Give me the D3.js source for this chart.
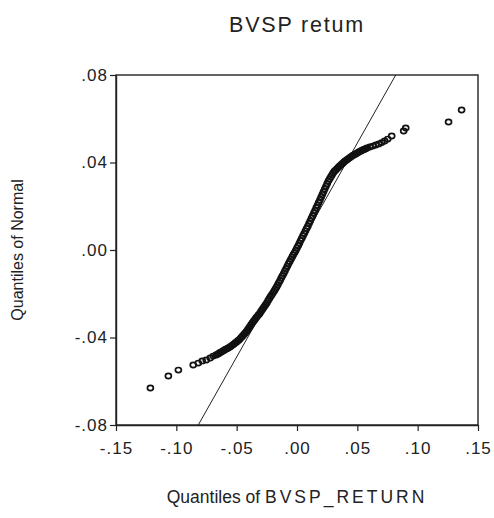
<!DOCTYPE html>
<html>
<head>
<meta charset="utf-8">
<script src="https://cdn.jsdelivr.net/npm/d3@7"></script>
<style>
  html, body { margin: 0; padding: 0; background: #fff; }
  svg { display: block; }
  text { font-family: "Liberation Sans", Arial, sans-serif; fill: #222; }
</style>
</head>
<body>
<svg id="chart" width="494" height="518"></svg>
<script>
// ---- Data ----
const title = "BVSP retum";
const xLabelA = "Quantiles of ";
const xLabelB = "BVSP_RETURN";
const yLabel = "Quantiles of Normal";

const xTicks = [-0.15, -0.10, -0.05, 0.00, 0.05, 0.10, 0.15];
const yTicks = [-0.08, -0.04, 0.00, 0.04, 0.08];

// Empirical quantiles (x) and normal quantiles (y)
const qData = [
  -0.1215, -0.1066, -0.0983, -0.0860, -0.0818, -0.0785, -0.0752, -0.0719, -0.0694,
  -0.067, -0.066, -0.065, -0.064, -0.063, -0.062, -0.061, -0.060, -0.059, -0.058,
  -0.057, -0.056, -0.055, -0.054, -0.053, -0.052, -0.051, -0.050, -0.049, -0.048,
  -0.047, -0.046, -0.045, -0.044, -0.043, -0.042, -0.041, -0.040, -0.039, -0.038,
  -0.037, -0.036, -0.035, -0.034, -0.033, -0.032, -0.031, -0.030, -0.029, -0.028,
  -0.027, -0.026, -0.025, -0.024, -0.023, -0.022, -0.021, -0.020, -0.019, -0.018,
  -0.017, -0.016, -0.015, -0.014, -0.013, -0.012, -0.011, -0.010, -0.009, -0.008,
  -0.007, -0.006, -0.005, -0.004, -0.003, -0.002, -0.001, 0.000, 0.001, 0.002,
  0.003, 0.004, 0.005, 0.006, 0.007, 0.008, 0.009, 0.010, 0.011, 0.012,
  0.013, 0.014, 0.015, 0.016, 0.017, 0.018, 0.019, 0.020, 0.021, 0.022,
  0.023, 0.024, 0.025, 0.026, 0.027, 0.028, 0.029, 0.030, 0.031, 0.032,
  0.033, 0.034, 0.035, 0.036, 0.037, 0.038, 0.039, 0.040, 0.041, 0.042,
  0.043, 0.044, 0.045, 0.046, 0.047, 0.048, 0.049, 0.050, 0.051, 0.052,
  0.053, 0.054, 0.055, 0.056, 0.057, 0.058,
  0.0603, 0.0628, 0.0653, 0.0678, 0.0702, 0.0727, 0.0752, 0.0785, 0.0884, 0.0901,
  0.1256, 0.1364
];
const qNormal = [
  -0.0631, -0.0576, -0.0549, -0.0526, -0.0517, -0.0507, -0.0503, -0.0494, -0.0485,
  -0.0480, -0.0477, -0.0474, -0.0470, -0.0467, -0.0464, -0.0460, -0.0457, -0.0454, -0.0451,
  -0.0448, -0.0445, -0.0441, -0.0437, -0.0433, -0.0429, -0.0424, -0.0420, -0.0415, -0.0411,
  -0.0405, -0.0399, -0.0393, -0.0386, -0.0380, -0.0374, -0.0366, -0.0358, -0.0350, -0.0342,
  -0.0334, -0.0326, -0.0319, -0.0311, -0.0304, -0.0297, -0.0291, -0.0282, -0.0274, -0.0266,
  -0.0258, -0.0250, -0.0242, -0.0232, -0.0223, -0.0214, -0.0206, -0.0197, -0.0188, -0.0179,
  -0.0170, -0.0160, -0.0149, -0.0139, -0.0128, -0.0118, -0.0107, -0.0096, -0.0085, -0.0074,
  -0.0063, -0.0052, -0.0042, -0.0032, -0.0022, -0.0012, -0.0002, 0.0009, 0.0020, 0.0031,
  0.0043, 0.0054, 0.0065, 0.0076, 0.0087, 0.0098, 0.0109, 0.0121, 0.0133, 0.0145,
  0.0157, 0.0169, 0.0181, 0.0193, 0.0205, 0.0217, 0.0229, 0.0241, 0.0254, 0.0266,
  0.0279, 0.0291, 0.0303, 0.0315, 0.0325, 0.0334, 0.0343, 0.0352, 0.0360, 0.0365,
  0.0371, 0.0376, 0.0382, 0.0387, 0.0392, 0.0397, 0.0402, 0.0407, 0.0411, 0.0415,
  0.0419, 0.0423, 0.0427, 0.0431, 0.0434, 0.0437, 0.0440, 0.0444, 0.0447, 0.0450,
  0.0453, 0.0456, 0.0458, 0.0461, 0.0463, 0.0466,
  0.0471, 0.0475, 0.0480, 0.0485, 0.0491, 0.0498, 0.0507, 0.0521, 0.0544, 0.0558,
  0.0585, 0.0640
];

// Reference (theoretical) line end points
const refLineX = [-0.0818, 0.0818];
const refLineY = [-0.08, 0.08];

// ---- Layout ----
const W = 494, H = 518;
const margin = { left: 116, right: 16, top: 75, bottom: 93 };
const svg = d3.select("#chart");

const x = d3.scaleLinear().domain([-0.15, 0.15]).range([margin.left, W - margin.right]);
const y = d3.scaleLinear().domain([-0.08, 0.08]).range([H - margin.bottom, margin.top]);

// EViews style: ".08", "-.04", ".00" with plain hyphen
const fmt = v => {
  const a = Math.abs(v) < 1e-9 ? 0 : v;
  const s = Math.abs(a).toFixed(2).replace(/^0\./, ".");
  return (a < 0 ? "-" : "") + s;
};

// clip
svg.append("clipPath").attr("id", "clip")
  .append("rect")
  .attr("x", x(-0.15)).attr("y", y(0.08))
  .attr("width", x(0.15) - x(-0.15)).attr("height", y(-0.08) - y(0.08));

// Reference line
svg.append("line")
  .attr("clip-path", "url(#clip)")
  .attr("x1", x(refLineX[0])).attr("y1", y(refLineY[0]))
  .attr("x2", x(refLineX[1])).attr("y2", y(refLineY[1]))
  .attr("stroke", "#222").attr("stroke-width", 1);

// Points
const pts = qData.map((d, i) => [d, qNormal[i]]);
svg.append("g")
  .selectAll("ellipse")
  .data(pts)
  .join("ellipse")
  .attr("cx", d => x(d[0]))
  .attr("cy", d => y(d[1]))
  .attr("rx", 3.0)
  .attr("ry", 2.6)
  .attr("fill", "none")
  .attr("stroke", "#111")
  .attr("stroke-width", 1.7);

// Frame (top/right)
svg.append("rect")
  .attr("x", x(-0.15)).attr("y", y(0.08))
  .attr("width", x(0.15) - x(-0.15)).attr("height", y(-0.08) - y(0.08))
  .attr("fill", "none").attr("stroke", "#222").attr("stroke-width", 1.4);

// Axes
const xAxis = d3.axisBottom(x).tickValues(xTicks).tickFormat(fmt).tickSize(6).tickSizeOuter(0);
const yAxis = d3.axisLeft(y).tickValues(yTicks).tickFormat(fmt).tickSize(6).tickSizeOuter(0);

const gx = svg.append("g").attr("transform", `translate(0,${y(-0.08)})`).call(xAxis);
const gy = svg.append("g").attr("transform", `translate(${x(-0.15)},0)`).call(yAxis);

[gx, gy].forEach(g => {
  g.select(".domain").attr("stroke", "#222").attr("stroke-width", 1.4);
  g.selectAll(".tick line").attr("stroke", "#222").attr("stroke-width", 1.2);
  g.selectAll(".tick text")
    .style("font-family", '"Liberation Sans", Arial, sans-serif')
    .style("font-size", "17px")
    .style("letter-spacing", "1px")
    .attr("fill", "#222");
});
gx.selectAll(".tick text").attr("dy", "0.95em").attr("y", 13);
gy.selectAll(".tick text").attr("x", -8);

// Title
svg.append("text")
  .attr("x", x(0)).attr("y", 32)
  .attr("text-anchor", "middle")
  .style("font-size", "21.5px")
  .style("letter-spacing", "1.8px")
  .text(title);

// X label
const xl = svg.append("text")
  .attr("x", x(0)).attr("y", 503)
  .attr("text-anchor", "middle")
  .style("font-size", "17.5px");
xl.append("tspan").text(xLabelA);
xl.append("tspan").style("letter-spacing", "3px").text(xLabelB);

// Y label
svg.append("text")
  .attr("transform", `translate(23,${y(0)}) rotate(-90)`)
  .attr("text-anchor", "middle")
  .style("font-size", "16px")
  .text(yLabel);
</script>
</body>
</html>
